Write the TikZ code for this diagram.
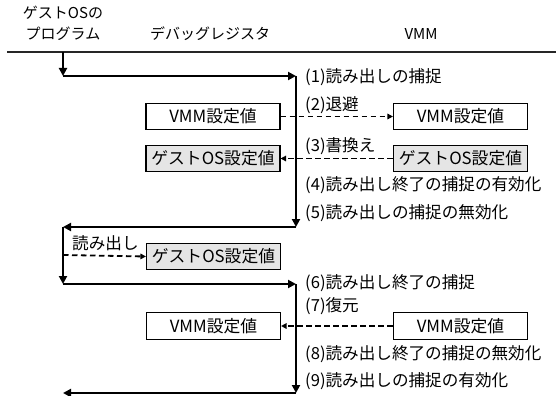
\documentclass[tikz,border=0pt]{standalone}
\usepackage{fontspec}
\setmainfont{Noto Sans CJK JP}
\usetikzlibrary{arrows.meta}
\begin{document}
\begin{tikzpicture}[x=1pt,y=-1pt,
  hdr/.style={font=\fontsize{15}{16}\selectfont, inner sep=0pt},
  lbl/.style={font=\fontsize{16.6}{17}\selectfont, inner sep=0pt, anchor=west},
  valbox/.style={draw, line width=1.1pt, minimum width=134pt, minimum height=26.5pt, inner sep=0pt, font=\fontsize{16.8}{17}\selectfont},
  gbox/.style={valbox, fill=black!10},
  flow/.style={line width=2.4pt, -{Triangle[length=8pt,width=8pt]}},
  dflow/.style={line width=1.8pt, dash pattern=on 5.5pt off 3.5pt, -{Triangle[length=5.5pt,width=5.5pt]}}
]
\useasboundingbox (0,0) rectangle (560,396);
% headers
\node[hdr] (h1) at (63,13) {ゲストOSの};
\node[hdr] (h2) at (63,34) {プログラム};
\node[hdr] (h3) at (210,34) {デバッグレジスタ};
\node[hdr] (h4) at (421,34) {VMM};
\coordinate (hl) at (7,52);
\coordinate (hr) at (556,52);
\draw[line width=1.2pt, black!85] (hl) -- (hr);
% lifeline points
\coordinate (g0) at (63,52);
\coordinate (g1) at (63,76);
\coordinate (v1) at (296,76);
\coordinate (v2) at (296,227);
\coordinate (g2) at (63,227);
\coordinate (g3) at (63,284);
\coordinate (v3) at (296,284);
\coordinate (v4) at (296,393);
\coordinate (g4) at (63,393);
\coordinate (gr) at (63,255);
% boxes
\node[valbox] (vmmL1) at (213,116.5) {VMM設定値};
\node[gbox] (gosL1) at (213,158.5) {ゲストOS設定値};
\node[valbox] (vmmR1) at (460.5,116.5) {VMM設定値};
\node[gbox] (gosR1) at (460.5,158.5) {ゲストOS設定値};
\node[gbox] (gosL2) at (213.5,256.5) {ゲストOS設定値};
\node[valbox] (vmmL2) at (213.5,326) {VMM設定値};
\node[valbox] (vmmR2) at (460.5,326) {VMM設定値};
% flow
\draw[flow] (g0) -- (g1);
\draw[flow] (g1) -- (v1);
\draw[flow] (v1) -- (v2);
\draw[flow] (v2) -- (g2);
\draw[flow] (g2) -- (g3);
\draw[flow] (g3) -- (v3);
\draw[flow] (v3) -- (v4);
\draw[flow] (v4) -- (g4);
% dashed data transfers
\draw[dflow] (vmmL1.east) -- (vmmR1.west);
\draw[dflow] (gosR1.west) -- (gosL1.east);
\draw[dflow] (gr) -- (gosL2.west);
\draw[dflow] (vmmR2.west) -- (vmmL2.east);
% labels
\node[lbl] (l1) at (305,77) {(1)読み出しの捕捉};
\node[lbl] (l2) at (305,105) {(2)退避};
\node[lbl] (l3) at (305,146) {(3)書換え};
\node[lbl] (l4) at (305,185) {(4)読み出し終了の捕捉の有効化};
\node[lbl] (l5) at (305,213) {(5)読み出しの捕捉の無効化};
\node[lbl] (l6) at (305,283) {(6)読み出し終了の捕捉};
\node[lbl] (l7) at (305,306) {(7)復元};
\node[lbl] (l8) at (305,354) {(8)読み出し終了の捕捉の無効化};
\node[lbl] (l9) at (305,381) {(9)読み出しの捕捉の有効化};
\node[lbl] (lr) at (72,243) {読み出し};
\end{tikzpicture}
\end{document}
